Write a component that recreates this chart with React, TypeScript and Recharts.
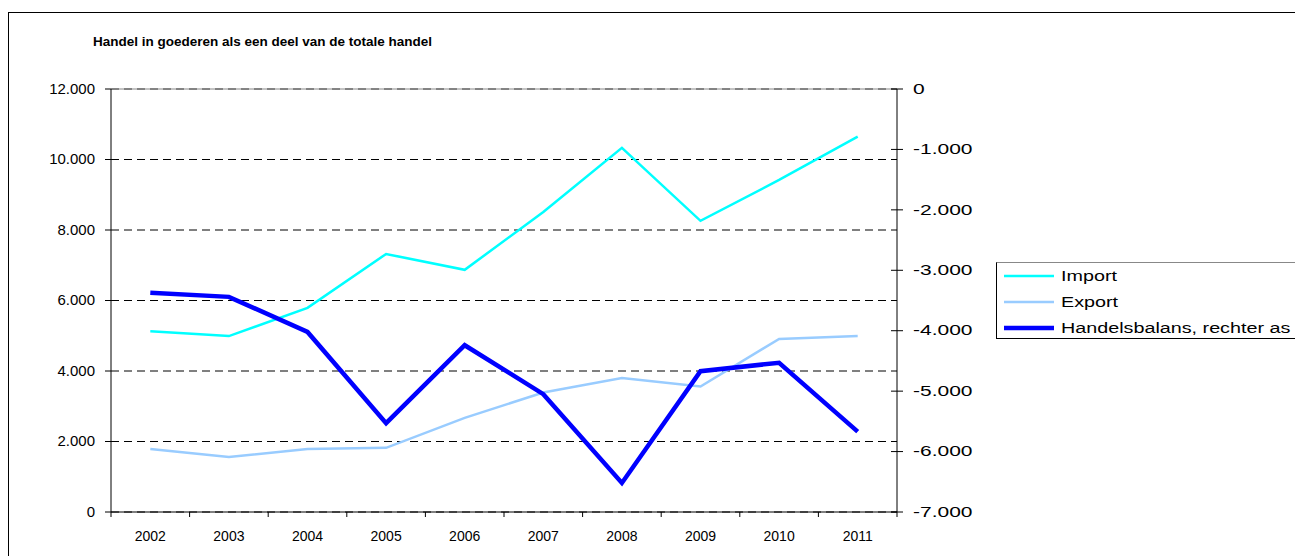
import { CartesianGrid, Legend, Line, LineChart, ReferenceLine, XAxis, YAxis } from 'recharts'

const YEARS = ['2002', '2003', '2004', '2005', '2006', '2007', '2008', '2009', '2010', '2011']
const IMPORT = [5130, 4990, 5790, 7320, 6870, 8510, 10330, 8260, 9420, 10650]
const EXPORT = [1790, 1560, 1790, 1820, 2670, 3390, 3800, 3560, 4910, 4990]
const BALANS = [-3370, -3440, -4020, -5530, -4240, -5050, -6520, -4670, -4530, -5670]

const LEFT_TICKS = [0, 2000, 4000, 6000, 8000, 10000, 12000]
const RIGHT_TICKS = [-7000, -6000, -5000, -4000, -3000, -2000, -1000, 0]

const SERIES = [
  { key: 'import', name: 'Import', color: '#00FFFF', width: 2.5, axis: 'left' },
  { key: 'export', name: 'Export', color: '#99CCFF', width: 2.5, axis: 'left' },
  { key: 'balans', name: 'Handelsbalans, rechter as', color: '#0000FF', width: 4.5, axis: 'right' },
]

const data = YEARS.map((year, i) => ({
  year,
  import: IMPORT[i],
  export: EXPORT[i],
  balans: BALANS[i],
}))

const FONT = '"Liberation Sans", Arial, sans-serif'
const BAND = 78.6

// 12000 -> "12.000", -1000 -> "-1.000"
const fmt = (v: number) => {
  const s = String(Math.abs(v)).replace(/\B(?=(\d{3})+(?!\d))/g, '.')
  return v < 0 ? `-${s}` : s
}

// the source picture is stretched sideways, so the text is too
function StretchText({ x, y, anchor, sx, children }: any) {
  return (
    <text
      transform={`translate(${x},${y}) scale(${sx},1)`}
      textAnchor={anchor}
      dominantBaseline="central"
      fontFamily={FONT}
      fontSize={14}
      fill="#000"
    >
      {children}
    </text>
  )
}

function LeftTick({ x, y, payload }: any) {
  return <StretchText x={x} y={y} anchor="end" sx={1.07}>{fmt(payload.value)}</StretchText>
}

function RightTick({ x, y, payload }: any) {
  const ax = x - 16
  return (
    <g>
      <line x1={ax - 6} x2={ax + 6} y1={y} y2={y} stroke="#000" />
      <StretchText x={x} y={y} anchor="start" sx={1.5}>{fmt(payload.value)}</StretchText>
    </g>
  )
}

function YearTick({ x, y, payload, index }: any) {
  const top = y - 24
  return (
    <g>
      <line x1={x - BAND / 2} x2={x - BAND / 2} y1={top} y2={top + 5} stroke="#000" />
      {index === YEARS.length - 1 && (
        <line x1={x + BAND / 2} x2={x + BAND / 2} y1={top} y2={top + 5} stroke="#000" />
      )}
      <StretchText x={x} y={y} anchor="middle" sx={1.0}>{payload.value}</StretchText>
    </g>
  )
}

function renderLegend() {
  return (
    <div
      style={{
        border: '1px solid #000',
        borderTopColor: '#888',
        height: 77,
        boxSizing: 'border-box',
        padding: '0 0 0 6px',
        fontFamily: FONT,
        fontSize: 14,
      }}
    >
      {SERIES.map((s) => (
        <div key={s.key} style={{ display: 'flex', alignItems: 'center', height: 26 }}>
          <svg width={52} height={8}>
            <line x1={1} x2={51} y1={4} y2={4} stroke={s.color} strokeWidth={s.width} />
          </svg>
          <span
            style={{
              marginLeft: 6,
              display: 'inline-block',
              transform: 'scaleX(1.41)',
              transformOrigin: 'left center',
              whiteSpace: 'nowrap',
            }}
          >
            {s.name}
          </span>
        </div>
      ))}
    </div>
  )
}

export default function App() {
  return (
    <div style={{ position: 'relative', width: 1295, height: 548, overflow: 'hidden', background: '#fff' }}>
      <div
        style={{
          position: 'absolute',
          left: 0,
          top: 4,
          width: 1320,
          height: 600,
          border: '1px solid #000',
        }}
      />
      <div
        style={{
          position: 'absolute',
          left: 85,
          top: 26,
          fontFamily: FONT,
          fontSize: 13.5,
          fontWeight: 'bold',
          lineHeight: '16px',
          whiteSpace: 'nowrap',
        }}
      >
        Handel in goederen als een deel van de totale handel
      </div>
      <div style={{ position: 'absolute', left: 0, top: 0 }}>
        <LineChart width={1295} height={548} data={data} margin={{ top: 81, right: 346, bottom: 0, left: 0 }}>
          <CartesianGrid yAxisId="left" vertical={false} stroke="#000" strokeDasharray="8 5" />
          <XAxis
            dataKey="year"
            height={44}
            padding={{ left: BAND / 2, right: BAND / 2 }}
            axisLine={{ stroke: '#000' }}
            tickLine={false}
            tickSize={0}
            tickMargin={24}
            tick={<YearTick />}
            interval={0}
          />
          <YAxis
            yAxisId="left"
            width={103}
            domain={[0, 12000]}
            ticks={LEFT_TICKS}
            axisLine={{ stroke: '#000' }}
            tickLine={{ stroke: '#000' }}
            tickSize={6}
            tickMargin={10}
            tick={<LeftTick />}
            interval={0}
          />
          <YAxis
            yAxisId="right"
            orientation="right"
            width={60}
            domain={[-7000, 0]}
            ticks={RIGHT_TICKS}
            axisLine={{ stroke: '#000' }}
            tickLine={false}
            tickSize={0}
            tickMargin={16}
            tick={<RightTick />}
            interval={0}
          />
          <ReferenceLine yAxisId="left" y={12000} stroke="#888" />
          {SERIES.map((s) => (
            <Line
              key={s.key}
              yAxisId={s.axis}
              dataKey={s.key}
              name={s.name}
              stroke={s.color}
              strokeWidth={s.width}
              dot={false}
              activeDot={false}
              isAnimationActive={false}
            />
          ))}
          <Legend
            layout="horizontal"
            verticalAlign="middle"
            align="center"
            content={renderLegend}
            wrapperStyle={{ left: 988, top: 254, width: 330 }}
          />
        </LineChart>
      </div>
    </div>
  )
}
